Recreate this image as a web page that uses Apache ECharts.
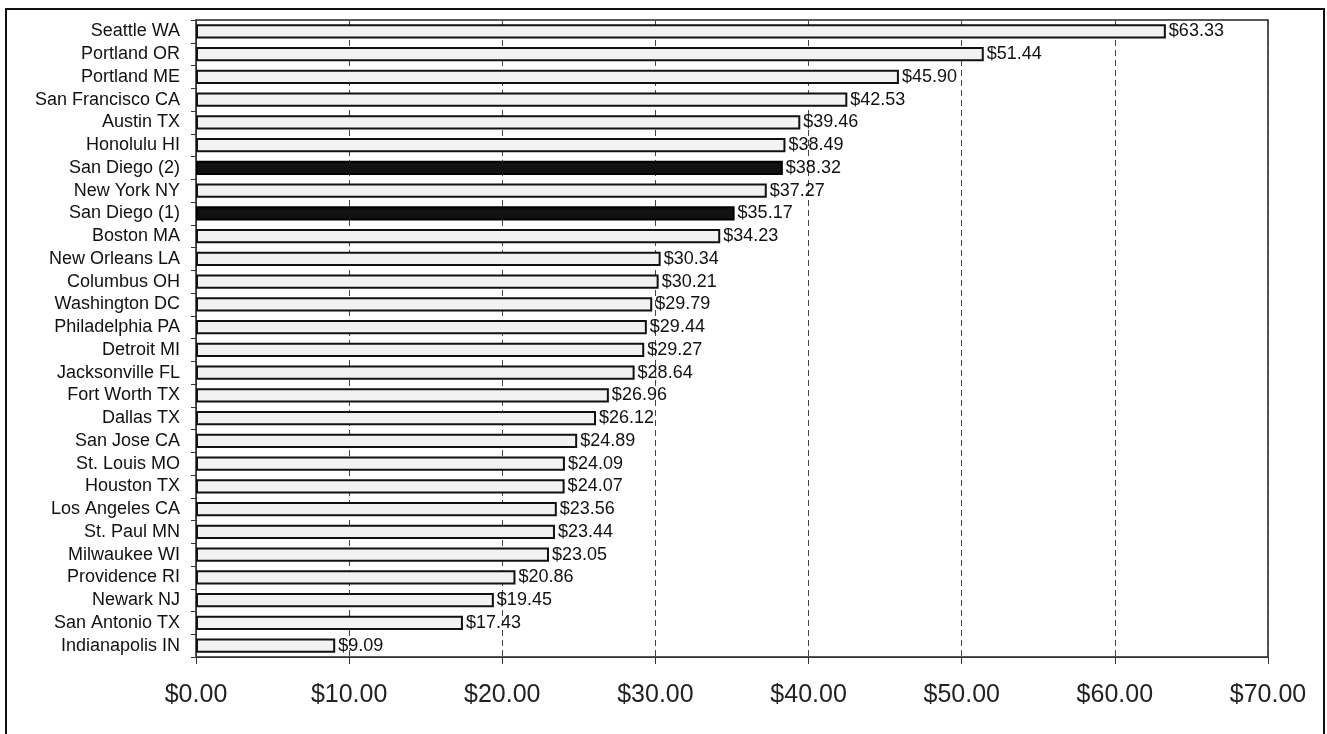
<!DOCTYPE html>
<html><head><meta charset="utf-8">
<script src="https://cdn.jsdelivr.net/npm/echarts@6/dist/echarts.min.js"></script>
<style>
html,body{margin:0;padding:0;background:#fff;}
#frame{position:absolute;left:5px;top:8px;width:1320px;height:730px;border:2px solid #111;box-sizing:border-box;}
#c{position:absolute;left:0;top:0;width:1327px;height:734px;}
</style></head>
<body><div id="frame"></div><div id="c"></div>
<script>
const categories = ["Seattle WA","Portland OR","Portland ME","San Francisco CA","Austin TX","Honolulu HI","San Diego (2)","New York NY","San Diego (1)","Boston MA","New Orleans LA","Columbus OH","Washington DC","Philadelphia PA","Detroit MI","Jacksonville FL","Fort Worth TX","Dallas TX","San Jose CA","St. Louis MO","Houston TX","Los Angeles CA","St. Paul MN","Milwaukee WI","Providence RI","Newark NJ","San Antonio TX","Indianapolis IN"];
const values = [63.33,51.44,45.90,42.53,39.46,38.49,38.32,37.27,35.17,34.23,30.34,30.21,29.79,29.44,29.27,28.64,26.96,26.12,24.89,24.09,24.07,23.56,23.44,23.05,20.86,19.45,17.43,9.09];
const highlighted = ["San Diego (2)","San Diego (1)"];
const xTicks = [0,10,20,30,40,50,60,70];

const chart = echarts.init(document.getElementById('c'));
const data = categories.map((c,i)=>({
  value: values[i],
  itemStyle: highlighted.includes(c) ? {color:'#111', borderColor:'#000'} : {color:'#f2f2f2', borderColor:'#111'}
}));
chart.setOption({
  animation:false,
  grid:{left:196,right:59,top:20,bottom:77,containLabel:false,show:true,borderColor:'#222',borderWidth:1.5,backgroundColor:'transparent'},
  xAxis:{type:'value',min:xTicks[0],max:xTicks[xTicks.length-1],interval:10,
    axisLine:{show:true,lineStyle:{color:'#333',width:1}},
    axisTick:{show:true,length:7,lineStyle:{color:'#333'}},
    axisLabel:{formatter:v=>'$'+v.toFixed(2),fontFamily:'Liberation Sans',fontSize:25,color:'#222',margin:26},
    splitLine:{show:true,lineStyle:{type:[6,4],color:'#444',width:1}}
  },
  yAxis:{type:'category',data:categories,inverse:true,
    axisLine:{show:true,lineStyle:{color:'#333',width:1}},
    axisTick:{show:true,length:5,lineStyle:{color:'#333'}},
    axisLabel:{interval:0,fontFamily:'Liberation Sans',fontSize:18,color:'#111',margin:16}
  },
  series:[{type:'bar',data:data,barCategoryGap:'38%',
    itemStyle:{borderWidth:2},
    label:{show:true,position:'right',distance:3,formatter:p=>'$'+p.value.toFixed(2),fontFamily:'Liberation Sans',fontSize:18,color:'#111'}
  }]
});
</script></body></html>
